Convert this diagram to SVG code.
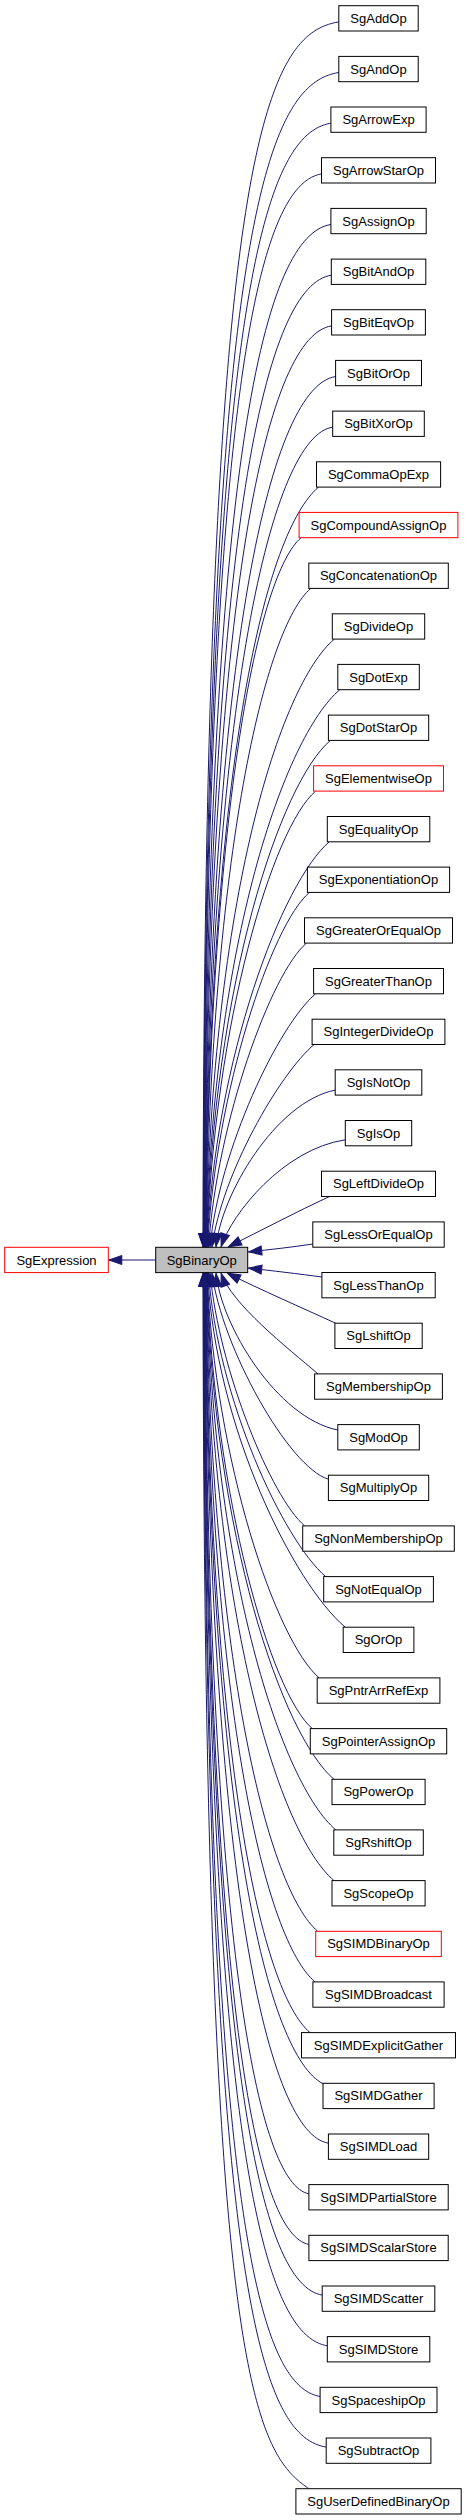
<svg xmlns="http://www.w3.org/2000/svg" width="467" height="2520" viewBox="0 0 467 2520">
<style>
.n rect{fill:#ffffff;stroke:#000000;stroke-width:1}
.n.r rect{stroke:#ff0000}
.n.c rect{fill:#bfbfbf}
.n text{font-family:"Liberation Sans",Arial,Helvetica,sans-serif;font-size:13px;fill:#000000;text-anchor:middle}
.e path{fill:none;stroke:#191970;stroke-width:1;marker-end:url(#ah)}
</style>
<defs>
<marker id="ah" markerUnits="userSpaceOnUse" markerWidth="16" markerHeight="12" refX="13.5" refY="4.5" orient="auto" overflow="visible">
<path d="M0,0 L13,4.5 L0,9 Z" fill="#191970" stroke="#191970" stroke-width="1"/>
</marker>
</defs>
<rect width="467" height="2520" fill="#ffffff"/>
<g id="edges" class="e">
<path d="M155.7,1260 L108.3,1260"/>
<path d="M338.8,21.9 C264.1,34.2 204,150.5 203,1247"/>
<path d="M338.8,72.5 C265.6,84.2 204.7,227.5 203.3,1247"/>
<path d="M330.9,123.2 C263.5,134.4 205.4,301.9 203.5,1247"/>
<path d="M321.5,173.9 C260.4,184.6 206.1,372.4 203.8,1247"/>
<path d="M330.9,224.5 C266.4,234.7 206.7,441.3 204,1247"/>
<path d="M331.3,275.2 C268,284.9 207.5,507.5 204.3,1247"/>
<path d="M331.6,325.9 C269.7,335.1 208.1,570 204.5,1247"/>
<path d="M335.6,376.6 C273.2,385.3 208.8,630.8 204.8,1247"/>
<path d="M332.7,427.2 C273.1,435.4 209.5,688.7 205,1247"/>
<path d="M318.5,487.1 C266.9,531 210.2,750 205.3,1247"/>
<path d="M301.1,537.7 C258.5,573.9 210.8,801.6 205.5,1247"/>
<path d="M310.8,588.4 C265.1,627.2 211.6,851.2 205.8,1247"/>
<path d="M334.3,639.1 C279.8,685.4 212.2,898.1 206,1247"/>
<path d="M339.8,689.7 C284.5,736.7 213,942.2 206.3,1247"/>
<path d="M330.4,740.4 C280.3,783 213.6,983.1 206.5,1247"/>
<path d="M315.6,791.1 C272.8,827.5 214.3,1021.8 206.8,1247"/>
<path d="M329.3,841.8 C282.5,881.6 215,1057.8 207,1247"/>
<path d="M309.4,892.4 C271.4,924.7 215.9,1091 207.5,1247"/>
<path d="M306.5,943.1 C271,973.3 217.3,1121.2 208.5,1247"/>
<path d="M315.6,993.8 C278.4,1025.4 219.3,1149 210,1247"/>
<path d="M314.1,1044.5 C279.3,1074.1 221.7,1174.1 212,1247"/>
<path d="M335.2,1090.1 C275.6,1102 221,1194.8 216,1247"/>
<path d="M345.3,1139.8 C283.1,1149.1 231.6,1214.1 221,1247"/>
<path d="M329.5,1196.5 C296,1212 262,1230 228,1247"/>
<path d="M312.8,1244 C290,1247.5 270,1249.5 248.2,1252"/>
<path d="M321.9,1277 C300,1274 270,1270.5 248.2,1268"/>
<path d="M335.5,1323.2 C302,1307.7 261,1290 227,1273"/>
<path d="M318,1373.9 C287,1347.5 231.6,1304 221,1273"/>
<path d="M337.8,1430 C276.9,1417.8 221,1325.3 216,1273"/>
<path d="M328.4,1479.2 C288.7,1467.3 221.7,1347.2 212,1273"/>
<path d="M304.7,1525.9 C271.4,1497.6 219.3,1370.9 210,1273"/>
<path d="M325.7,1576.6 C283.3,1540.5 217.3,1398.7 208.5,1273"/>
<path d="M345.2,1627.2 C293.8,1583.5 215.9,1428.8 207.5,1273"/>
<path d="M319.2,1677.9 C276.2,1641.4 215,1462.1 207,1273"/>
<path d="M312.3,1728.6 C270.8,1693.3 214.3,1498.1 206.8,1273"/>
<path d="M334,1779.3 C282.5,1735.5 213.6,1536.8 206.5,1273"/>
<path d="M335.8,1829.9 C282.2,1784.3 213,1577.6 206.3,1273"/>
<path d="M334,1880.6 C279.6,1834.4 212.2,1621.8 206,1273"/>
<path d="M317.7,1931.3 C269,1889.9 211.6,1668.6 205.8,1273"/>
<path d="M315,1981.9 C266.2,1940.4 210.8,1718.2 205.5,1273"/>
<path d="M310,2032.6 C262.2,1992 210.2,1769.8 205.3,1273"/>
<path d="M323.5,2084 C268.2,2056.3 209.5,1825.3 205,1273"/>
<path d="M328.4,2143.1 C269.4,2134.4 208.8,1889 204.8,1273"/>
<path d="M308.9,2193.8 C258.1,2184.6 208.1,1949.8 204.5,1273"/>
<path d="M308.9,2244.4 C256.8,2234.7 207.5,2012.2 204.3,1273"/>
<path d="M322.2,2295.1 C262.2,2284.9 206.7,2078.4 204,1273"/>
<path d="M327.3,2345.8 C263.2,2335.1 206.1,2147.3 203.8,1273"/>
<path d="M320.1,2396.5 C258.4,2385.3 205.4,2217.9 203.5,1273"/>
<path d="M326.2,2447.1 C259.8,2435.4 204.7,2292.1 203.3,1273"/>
<path d="M309,2488.7 C250.7,2449.7 204,2361 203,1273"/>
</g>
<g id="node-SgExpression" class="n r"><rect x="4.7" y="1247.3" width="103.6" height="25.3"/><text x="56.5" y="1264.5">SgExpression</text></g>
<g id="node-SgBinaryOp" class="n c"><rect x="155.7" y="1247.3" width="92" height="25.3"/><text x="201.7" y="1264.5">SgBinaryOp</text></g>
<g id="node-SgAddOp" class="n"><rect x="338.8" y="5.7" width="79.4" height="25.3"/><text x="378.5" y="22.8">SgAddOp</text></g>
<g id="node-SgAndOp" class="n"><rect x="338.8" y="56.4" width="79.4" height="25.3"/><text x="378.5" y="73.5">SgAndOp</text></g>
<g id="node-SgArrowExp" class="n"><rect x="330.9" y="107.0" width="95.2" height="25.3"/><text x="378.5" y="124.2">SgArrowExp</text></g>
<g id="node-SgArrowStarOp" class="n"><rect x="321.5" y="157.7" width="114" height="25.3"/><text x="378.5" y="174.9">SgArrowStarOp</text></g>
<g id="node-SgAssignOp" class="n"><rect x="330.9" y="208.4" width="95.3" height="25.3"/><text x="378.5" y="225.5">SgAssignOp</text></g>
<g id="node-SgBitAndOp" class="n"><rect x="331.3" y="259.1" width="94.5" height="25.3"/><text x="378.5" y="276.2">SgBitAndOp</text></g>
<g id="node-SgBitEqvOp" class="n"><rect x="331.6" y="309.7" width="93.8" height="25.3"/><text x="378.5" y="326.9">SgBitEqvOp</text></g>
<g id="node-SgBitOrOp" class="n"><rect x="335.6" y="360.4" width="85.9" height="25.3"/><text x="378.5" y="377.6">SgBitOrOp</text></g>
<g id="node-SgBitXorOp" class="n"><rect x="332.7" y="411.1" width="91.6" height="25.3"/><text x="378.5" y="428.2">SgBitXorOp</text></g>
<g id="node-SgCommaOpExp" class="n"><rect x="316.5" y="461.8" width="124.1" height="25.3"/><text x="378.5" y="478.9">SgCommaOpExp</text></g>
<g id="node-SgCompoundAssignOp" class="n r"><rect x="299.1" y="512.4" width="158.8" height="25.3"/><text x="378.5" y="529.6">SgCompoundAssignOp</text></g>
<g id="node-SgConcatenationOp" class="n"><rect x="308.8" y="563.1" width="139.5" height="25.3"/><text x="378.5" y="580.3">SgConcatenationOp</text></g>
<g id="node-SgDivideOp" class="n"><rect x="332.3" y="613.8" width="92.4" height="25.3"/><text x="378.5" y="630.9">SgDivideOp</text></g>
<g id="node-SgDotExp" class="n"><rect x="337.8" y="664.4" width="81.5" height="25.3"/><text x="378.5" y="681.6">SgDotExp</text></g>
<g id="node-SgDotStarOp" class="n"><rect x="328.4" y="715.1" width="100.3" height="25.3"/><text x="378.5" y="732.3">SgDotStarOp</text></g>
<g id="node-SgElementwiseOp" class="n r"><rect x="313.6" y="765.8" width="129.9" height="25.3"/><text x="378.5" y="782.9">SgElementwiseOp</text></g>
<g id="node-SgEqualityOp" class="n"><rect x="327.3" y="816.5" width="102.5" height="25.3"/><text x="378.5" y="833.6">SgEqualityOp</text></g>
<g id="node-SgExponentiationOp" class="n"><rect x="307.4" y="867.1" width="142.2" height="25.3"/><text x="378.5" y="884.3">SgExponentiationOp</text></g>
<g id="node-SgGreaterOrEqualOp" class="n"><rect x="304.5" y="917.8" width="148" height="25.3"/><text x="378.5" y="935.0">SgGreaterOrEqualOp</text></g>
<g id="node-SgGreaterThanOp" class="n"><rect x="313.6" y="968.5" width="129.9" height="25.3"/><text x="378.5" y="985.6">SgGreaterThanOp</text></g>
<g id="node-SgIntegerDivideOp" class="n"><rect x="312.1" y="1019.2" width="132.8" height="25.3"/><text x="378.5" y="1036.3">SgIntegerDivideOp</text></g>
<g id="node-SgIsNotOp" class="n"><rect x="335.2" y="1069.8" width="86.6" height="25.3"/><text x="378.5" y="1087.0">SgIsNotOp</text></g>
<g id="node-SgIsOp" class="n"><rect x="345.3" y="1120.5" width="66.4" height="25.3"/><text x="378.5" y="1137.7">SgIsOp</text></g>
<g id="node-SgLeftDivideOp" class="n"><rect x="321.5" y="1171.2" width="114" height="25.3"/><text x="378.5" y="1188.3">SgLeftDivideOp</text></g>
<g id="node-SgLessOrEqualOp" class="n"><rect x="312.8" y="1221.9" width="131.4" height="25.3"/><text x="378.5" y="1239.0">SgLessOrEqualOp</text></g>
<g id="node-SgLessThanOp" class="n"><rect x="321.9" y="1272.5" width="113.3" height="25.3"/><text x="378.5" y="1289.7">SgLessThanOp</text></g>
<g id="node-SgLshiftOp" class="n"><rect x="334.9" y="1323.2" width="87.3" height="25.3"/><text x="378.5" y="1340.4">SgLshiftOp</text></g>
<g id="node-SgMembershipOp" class="n"><rect x="314.6" y="1373.9" width="127.8" height="25.3"/><text x="378.5" y="1391.0">SgMembershipOp</text></g>
<g id="node-SgModOp" class="n"><rect x="337.8" y="1424.6" width="81.5" height="25.3"/><text x="378.5" y="1441.7">SgModOp</text></g>
<g id="node-SgMultiplyOp" class="n"><rect x="328.4" y="1475.2" width="100.3" height="25.3"/><text x="378.5" y="1492.4">SgMultiplyOp</text></g>
<g id="node-SgNonMembershipOp" class="n"><rect x="302.7" y="1525.9" width="151.6" height="25.3"/><text x="378.5" y="1543.0">SgNonMembershipOp</text></g>
<g id="node-SgNotEqualOp" class="n"><rect x="323.7" y="1576.6" width="109.7" height="25.3"/><text x="378.5" y="1593.7">SgNotEqualOp</text></g>
<g id="node-SgOrOp" class="n"><rect x="343.2" y="1627.2" width="70.7" height="25.3"/><text x="378.5" y="1644.4">SgOrOp</text></g>
<g id="node-SgPntrArrRefExp" class="n"><rect x="317.2" y="1677.9" width="122.7" height="25.3"/><text x="378.5" y="1695.1">SgPntrArrRefExp</text></g>
<g id="node-SgPointerAssignOp" class="n"><rect x="310.3" y="1728.6" width="136.4" height="25.3"/><text x="378.5" y="1745.7">SgPointerAssignOp</text></g>
<g id="node-SgPowerOp" class="n"><rect x="332" y="1779.3" width="93.1" height="25.3"/><text x="378.5" y="1796.4">SgPowerOp</text></g>
<g id="node-SgRshiftOp" class="n"><rect x="333.8" y="1829.9" width="89.5" height="25.3"/><text x="378.5" y="1847.1">SgRshiftOp</text></g>
<g id="node-SgScopeOp" class="n"><rect x="332" y="1880.6" width="93.1" height="25.3"/><text x="378.5" y="1897.7">SgScopeOp</text></g>
<g id="node-SgSIMDBinaryOp" class="n r"><rect x="315.7" y="1931.3" width="125.6" height="25.3"/><text x="378.5" y="1948.4">SgSIMDBinaryOp</text></g>
<g id="node-SgSIMDBroadcast" class="n"><rect x="312.9" y="1981.9" width="131.2" height="25.3"/><text x="378.5" y="1999.1">SgSIMDBroadcast</text></g>
<g id="node-SgSIMDExplicitGather" class="n"><rect x="301.5" y="2032.6" width="154" height="25.3"/><text x="378.5" y="2049.8">SgSIMDExplicitGather</text></g>
<g id="node-SgSIMDGather" class="n"><rect x="323" y="2083.3" width="111.1" height="25.3"/><text x="378.5" y="2100.4">SgSIMDGather</text></g>
<g id="node-SgSIMDLoad" class="n"><rect x="328.4" y="2134.0" width="100.3" height="25.3"/><text x="378.5" y="2151.1">SgSIMDLoad</text></g>
<g id="node-SgSIMDPartialStore" class="n"><rect x="308.9" y="2184.6" width="139.3" height="25.3"/><text x="378.5" y="2201.8">SgSIMDPartialStore</text></g>
<g id="node-SgSIMDScalarStore" class="n"><rect x="308.9" y="2235.3" width="139.3" height="25.3"/><text x="378.5" y="2252.4">SgSIMDScalarStore</text></g>
<g id="node-SgSIMDScatter" class="n"><rect x="322.2" y="2286.0" width="112.6" height="25.3"/><text x="378.5" y="2303.1">SgSIMDScatter</text></g>
<g id="node-SgSIMDStore" class="n"><rect x="327.3" y="2336.6" width="102.5" height="25.3"/><text x="378.5" y="2353.8">SgSIMDStore</text></g>
<g id="node-SgSpaceshipOp" class="n"><rect x="320.1" y="2387.3" width="116.9" height="25.3"/><text x="378.5" y="2404.5">SgSpaceshipOp</text></g>
<g id="node-SgSubtractOp" class="n"><rect x="326.2" y="2438.0" width="104.7" height="25.3"/><text x="378.5" y="2455.1">SgSubtractOp</text></g>
<g id="node-SgUserDefinedBinaryOp" class="n"><rect x="295.9" y="2488.7" width="165.3" height="25.3"/><text x="378.5" y="2505.8">SgUserDefinedBinaryOp</text></g>
</svg>
